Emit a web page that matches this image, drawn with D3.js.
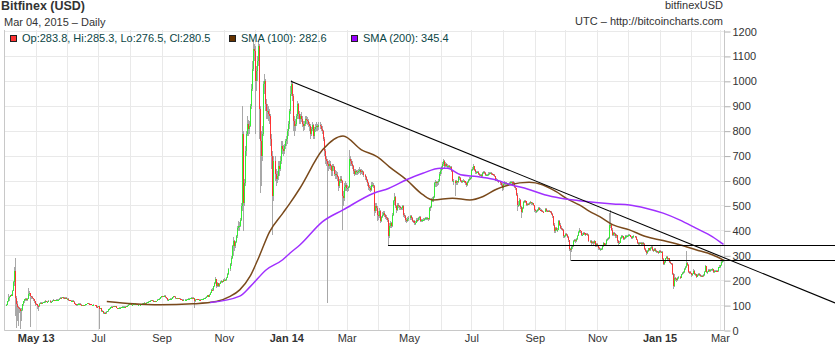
<!DOCTYPE html>
<html>
<head>
<meta charset="utf-8">
<script src="https://cdn.jsdelivr.net/npm/d3@7"></script>
<style>
  body { margin: 0; background: #fff; }
  svg { display: block; }
  text { font-family: "Liberation Sans", Arial, sans-serif; }
</style>
</head>
<body>
<svg id="chart" width="835" height="345"></svg>
<script>
// ---- Bitfinex BTC/USD daily candles, 2013-04-01 .. 2015-03-04 ----
const startDate = "2013-04-01";
const firstOpen = 100;

const close = [
  // 2013 Apr
  104,118,132,135,142,140,160,195,240,130,105,95,90,88,80,82,105,118,125,128,124,128,145,150,138,135,130,125,118,108,
  // May
  105,100,98,108,112,110,112,113,114,118,116,116,119,115,116,119,122,121,121,122,123,124,127,132,131,133,130,128,131,128,128,
  // Jun
  122,121,119,120,120,116,108,107,102,106,108,108,104,100,101,100,101,105,106,109,108,107,106,102,102,103,101,95,94,97,
  // Jul
  88,89,78,79,70,72,69,76,77,86,88,93,96,94,98,97,97,91,89,91,92,92,93,95,96,96,95,97,99,104,105,
  // Aug
  105,104,104,105,106,107,106,104,104,104,106,108,110,111,108,111,114,116,118,119,122,120,116,117,116,118,124,126,128,134,137,
  // Sep
  136,138,139,134,129,123,124,125,127,127,134,137,135,130,130,129,129,128,125,124,123,123,124,124,126,127,128,129,131,128,
  // Oct
  130,118,124,126,125,124,124,123,126,126,127,129,132,135,141,136,143,152,164,163,177,190,206,180,190,179,188,196,197,196,204,
  // Nov
  203,204,212,226,245,265,290,340,360,340,355,380,410,420,420,445,500,790,510,590,720,790,830,810,820,900,970,1050,1130,1120,
  // Dec
  1000,1040,1080,1140,890,760,700,790,990,1000,910,880,880,870,860,770,700,540,680,630,610,620,660,650,680,740,730,720,740,760,770,
  // 2014 Jan
  800,830,880,950,990,940,840,820,830,860,910,870,850,860,850,830,820,830,850,845,840,830,820,790,810,825,780,810,815,820,815,
  // Feb
  825,820,810,800,770,720,690,680,670,660,670,660,640,660,655,630,630,625,615,580,600,610,600,540,530,575,585,570,
  // Mar
  570,575,690,680,670,660,640,630,640,635,635,640,645,635,640,635,625,615,605,590,575,570,565,585,585,580,480,500,490,465,460,
  // Apr
  480,440,455,465,470,462,455,450,445,380,420,430,420,465,520,535,500,485,505,500,495,490,490,500,465,460,445,440,448,450,
  // May
  460,450,440,438,432,432,445,442,452,455,440,442,442,445,446,450,450,450,446,490,495,525,525,535,590,595,590,595,600,630,640,
  // Jun
  655,670,680,660,670,660,660,660,655,655,640,600,600,590,598,595,615,612,600,598,598,602,598,590,585,595,605,610,612,645,
  // Jul
  650,660,645,635,638,638,628,625,625,620,632,638,632,625,625,625,630,632,632,630,628,625,620,605,605,600,595,590,585,570,588,
  // Aug
  592,590,588,588,586,592,595,596,594,593,575,570,545,505,505,525,495,475,490,515,520,518,505,508,507,512,514,510,510,503,483,
  // Sep
  478,478,482,492,485,483,481,477,476,488,480,478,479,478,475,468,458,425,398,412,402,405,440,425,412,408,404,378,378,388,
  // Oct
  385,375,362,328,322,335,338,360,362,360,366,380,395,402,398,385,385,392,390,385,388,384,360,360,350,354,352,358,338,348,340,
  // Nov
  330,328,328,328,340,350,342,348,362,368,372,425,425,405,385,390,388,378,382,358,352,353,372,378,378,368,372,378,378,380,
  // Dec
  382,382,376,370,378,378,376,365,352,348,350,352,348,352,348,328,320,312,318,330,322,333,336,324,320,328,318,318,316,313,320,
  // 2015 Jan
  315,316,287,266,276,290,296,285,290,276,270,268,228,180,210,206,201,212,216,212,226,232,234,248,254,272,264,236,234,230,222,
  // Feb
  228,240,226,226,216,224,228,222,220,220,219,222,236,258,236,236,244,237,241,245,246,236,238,239,238,237,254,255,
  // Mar
  261,276,283.8,280.5
];

const high = [
  106,120,146,140,144,146,162,200,255,290,140,120,100,95,92,90,108,120,128,132,130,132,170,160,152,140,138,132,128,120,
  112,108,103,110,115,114,115,116,117,121,120,119,122,121,119,121,125,124,124,125,125,127,130,135,135,136,135,133,134,134,131,
  129,124,123,122,122,121,117,110,108,107,109,110,109,105,103,102,103,106,108,111,110,109,108,107,104,105,104,102,97,99,
  98,92,90,82,80,74,73,78,80,88,90,95,98,97,100,99,99,97,92,92,94,94,95,97,98,98,97,99,101,106,108,
  107,106,106,107,108,109,108,107,106,106,108,110,112,113,112,113,116,118,120,121,124,123,121,119,118,120,126,128,130,136,140,
  140,140,142,141,136,131,126,127,129,130,136,139,139,137,132,132,131,131,130,127,126,125,126,126,128,129,130,131,133,133,
  133,132,126,128,128,127,126,126,128,128,129,131,134,138,144,143,146,155,168,170,180,195,215,208,195,192,192,200,202,200,208,
  210,208,215,230,250,270,300,345,375,365,360,385,420,440,435,450,510,900,800,610,740,800,860,845,840,910,990,1080,1165,1150,
  1140,1060,1100,1160,1150,900,800,820,1000,1030,1010,930,910,900,890,870,790,720,700,700,650,640,680,680,700,760,760,745,750,770,780,
  810,840,890,980,1006,1000,950,860,850,870,920,915,880,870,875,860,840,840,860,860,855,850,835,830,815,835,830,815,830,835,830,
  835,835,830,820,805,775,730,700,690,680,685,680,665,670,670,660,645,640,635,620,610,620,620,605,560,590,600,590,
  585,580,725,700,690,680,665,650,650,645,645,650,655,650,648,645,640,630,620,610,595,585,580,595,595,590,585,510,510,500,480,
  490,485,460,475,480,478,468,462,455,450,430,440,435,470,525,551,540,505,510,510,505,500,495,505,505,470,465,450,455,460,
  465,465,455,445,442,438,450,450,456,460,458,448,448,450,450,455,455,455,452,495,500,530,535,540,595,605,600,600,610,635,650,
  660,675,690,685,675,672,668,665,665,662,660,645,610,605,605,600,620,620,615,605,605,608,605,600,595,600,610,615,618,650,
  655,668,662,650,642,642,640,632,630,628,636,642,640,635,630,630,635,636,636,635,634,630,628,622,612,610,605,600,595,590,592,
  598,596,594,592,592,596,600,602,600,598,596,580,572,550,520,530,528,500,495,520,525,524,520,512,512,516,518,516,515,512,505,
  488,484,486,496,495,490,486,484,480,492,490,484,483,482,480,478,470,460,430,415,415,410,445,442,430,418,412,406,385,392,
  392,388,380,365,332,340,345,365,368,366,370,385,400,410,405,400,390,396,395,392,392,390,386,365,362,358,358,362,360,352,350,
  345,335,332,332,345,355,352,352,366,372,376,470,482,428,410,395,395,392,386,385,362,360,375,382,382,380,375,382,382,385,
  386,386,385,380,380,382,380,378,368,356,354,356,354,355,354,350,332,325,322,332,333,336,340,338,326,330,330,322,320,320,322,
  322,318,318,290,280,292,300,298,292,292,278,272,270,230,225,215,210,215,220,218,228,235,238,250,258,318,275,266,240,238,232,
  232,245,242,230,228,226,232,230,225,224,224,225,240,262,260,240,246,246,245,248,250,248,242,242,242,241,256,262,
  264,280,286,285.3
];

const low = [
  98,103,115,120,133,137,139,158,180,60,10,40,20,70,5,40,80,100,110,120,118,120,126,140,16,128,125,118,110,100,
  102,85,80,96,106,107,108,110,111,112,113,113,114,112,113,114,117,118,118,119,120,121,122,125,128,129,128,125,126,126,125,
  120,119,117,117,118,114,105,104,100,100,104,106,102,98,99,98,99,100,104,105,106,105,104,101,100,100,99,92,91,93,
  5,85,76,75,66,68,66,68,74,75,84,86,91,92,93,95,95,89,87,88,90,90,91,92,94,94,93,94,96,98,102,
  103,102,102,103,104,105,104,102,102,102,103,105,107,108,106,107,110,113,115,116,117,118,114,114,114,115,117,122,124,126,132,
  133,133,136,132,126,120,121,122,124,125,125,132,133,128,127,127,126,126,123,122,120,121,121,122,122,124,125,126,127,125,
  126,90,115,121,123,122,122,121,121,124,124,125,127,130,133,133,134,141,150,158,160,174,186,170,176,175,176,185,190,190,194,
  198,198,200,210,222,240,260,285,300,320,330,350,370,400,400,415,440,480,400,500,580,700,780,780,790,815,890,960,1040,1080,
  790,960,1000,1060,770,550,580,680,780,950,880,850,850,840,830,740,650,384,520,600,580,590,605,620,640,670,710,700,710,730,740,
  750,780,810,870,940,920,800,779,800,820,850,850,830,830,835,815,800,805,820,830,825,815,800,770,780,800,770,770,795,800,800,
  805,810,800,790,760,700,670,660,110,640,650,645,620,620,640,620,610,610,600,560,570,590,590,404,500,520,560,560,
  555,560,570,660,660,650,630,620,625,625,625,630,632,625,630,625,615,605,595,580,565,560,555,560,575,570,460,470,480,440,445,
  450,430,435,450,458,455,448,445,435,344,370,410,410,415,460,505,490,470,480,492,485,482,482,485,455,450,435,430,435,440,
  445,445,435,430,425,425,430,435,438,445,435,435,436,438,440,442,444,444,440,442,480,490,515,515,530,575,575,580,585,595,620,
  630,645,660,650,655,655,652,652,648,648,635,595,585,540,585,585,590,605,595,590,592,595,590,582,575,580,590,600,605,608,
  640,645,640,628,630,632,624,620,620,615,618,628,628,620,620,620,622,626,628,626,624,620,615,600,598,595,590,585,578,560,565,
  585,585,584,583,582,584,588,590,588,588,570,562,540,480,495,500,488,451,470,488,510,512,500,500,502,505,508,505,505,498,475,
  472,472,474,480,482,480,477,474,472,474,476,474,475,474,470,464,452,420,390,392,398,396,402,420,408,402,398,370,372,375,
  380,370,355,320,280,315,328,335,355,352,355,362,378,390,392,380,378,382,385,380,382,380,355,352,345,346,345,348,335,335,335,
  325,322,320,322,325,335,338,338,345,358,362,368,410,400,380,378,380,372,372,350,345,346,350,368,370,364,364,368,372,374,
  376,378,374,366,368,372,372,362,348,342,344,346,344,345,345,325,315,305,308,315,318,320,328,320,316,318,315,312,310,308,310,
  312,310,282,262,262,272,285,282,282,272,265,262,222,166,175,200,196,198,208,206,210,222,228,230,244,250,258,230,228,225,215,
  218,225,222,218,212,214,220,218,216,215,215,216,220,234,230,228,233,234,234,238,240,232,232,235,235,234,236,250,
  252,258,272,276.5
];

// ---- moving averages ----
const sma100Dates = [
  "2013-07-09","2013-08-04","2013-08-30","2013-10-01","2013-10-24","2013-11-06","2013-11-16","2013-11-26",
  "2013-12-05","2013-12-15","2013-12-28","2014-01-04","2014-01-14","2014-02-05","2014-02-25","2014-03-15",
  "2014-03-31","2014-04-11","2014-04-28","2014-05-14","2014-05-24","2014-06-12","2014-06-29","2014-07-12",
  "2014-07-25","2014-08-07","2014-08-26","2014-09-08","2014-09-21","2014-10-04","2014-10-14","2014-10-24",
  "2014-11-03","2014-11-16","2014-12-02","2014-12-18","2015-01-04","2015-01-20","2015-02-05","2015-02-21","2015-03-04"
];
const sma100 = [
  116,107,103,107,116,136,163,217,
  297,395,470,510,572,725,781,725,
  696,658,605,545,524,531,524,538,
  567,585,595,585,558,524,504,478,
  457,424,404,377,361,344,324,304,282.6
];

const sma200Dates = [
  "2013-10-18","2013-11-16","2013-11-26","2013-12-12","2013-12-28","2014-01-04","2014-01-14","2014-02-05",
  "2014-02-25","2014-03-27","2014-04-11","2014-04-28","2014-05-14","2014-05-31","2014-06-07","2014-06-20",
  "2014-07-06","2014-07-22","2014-08-08","2014-08-25","2014-09-10","2014-09-26","2014-10-14","2014-11-16",
  "2014-12-02","2014-12-18","2015-01-04","2015-01-20","2015-02-05","2015-02-21","2015-03-04"
];
const sma200 = [
  112,138,175,244,284,310,344,437,
  484,551,571,605,631,651,651,625,
  618,607,585,567,545,531,521,508,
  504,491,471,444,411,377,345.4
];

// ---- drawn trend / support lines ----
const trendStart = ["2014-01-05", 1000];
const trendEnd = ["2015-03-04", 293];
const supportStarts = [["2014-04-10", 342], ["2014-10-06", 280]];

// ---- axis labels ----
const priceTicks = [0,100,200,300,400,500,600,700,800,900,1000,1100,1200];
const monthLabels = ["May 13","Jul","Sep","Nov","Jan 14","Mar","May","Jul","Sep","Nov","Jan 15","Mar"];

// ---------------------------------------------------------------
const W = 835, H = 345;
const plot = { left: 4, right: 724, top: 30, bottom: 330.5 };
const svg = d3.select("#chart");
const parse = d3.utcParse("%Y-%m-%d");
const day0 = parse(startDate);

const n = Math.min(close.length, high.length, low.length);
const candles = d3.range(n).map(i => ({
  date: d3.utcDay.offset(day0, i),
  open: i === 0 ? firstOpen : close[i - 1],
  high: high[i], low: low[i], close: close[i]
}));
const last = candles[n - 1];

const x = d3.scaleUtc()
  .domain([d3.utcHour.offset(day0, -36), d3.utcHour.offset(last.date, 12)])
  .range([plot.left, plot.right]);
const y = d3.scaleLinear().domain([0, 1200]).range([330.5, 31.5]);
const crisp = v => Math.round(v - 0.5) + 0.5;

svg.append("defs").append("clipPath").attr("id", "plotClip")
  .append("rect").attr("x", plot.left).attr("y", plot.top)
  .attr("width", plot.right - plot.left).attr("height", plot.bottom - plot.top + 1);

// grid
const grid = svg.append("g").attr("stroke", "#e9e9e9").attr("stroke-width", 1);
grid.selectAll("line.h").data(priceTicks).join("line").attr("class", "h")
  .attr("x1", plot.left).attr("x2", plot.right)
  .attr("y1", d => crisp(y(d))).attr("y2", d => crisp(y(d)));
const months = d3.utcMonth.range(parse("2013-05-01"), parse("2015-03-02"));
grid.selectAll("line.v").data(months).join("line").attr("class", "v")
  .attr("x1", d => crisp(x(d))).attr("x2", d => crisp(x(d)))
  .attr("y1", plot.top).attr("y2", plot.bottom);

// frame
svg.append("path")
  .attr("d", `M${plot.left + 0.5},${plot.top}V${plot.bottom}H${plot.right + 0.5}V${plot.top}`)
  .attr("fill", "none").attr("stroke", "#c8c8c8");

// candles
const cg = svg.append("g").attr("clip-path", "url(#plotClip)").attr("shape-rendering", "crispEdges");
cg.selectAll("line.wick").data(candles).join("line").attr("class", "wick")
  .attr("x1", d => Math.round(x(d.date)) + 0.5).attr("x2", d => Math.round(x(d.date)) + 0.5)
  .attr("y1", d => y(d.high)).attr("y2", d => y(d.low))
  .attr("stroke", "#a8a8a8").attr("stroke-width", 1);
cg.selectAll("rect.body").data(candles).join("rect").attr("class", "body")
  .attr("x", d => Math.round(x(d.date)))
  .attr("width", 1)
  .attr("y", d => y(Math.max(d.open, d.close)))
  .attr("height", d => Math.max(1, Math.abs(y(d.open) - y(d.close))))
  .attr("fill", d => d.close >= d.open ? "#33ee33" : "#ff3333");

// moving averages
const smaLine = d3.line().x(d => x(d[0])).y(d => y(d[1])).curve(d3.curveMonotoneX);
const smaG = svg.append("g").attr("clip-path", "url(#plotClip)").attr("fill", "none").attr("stroke-width", 1.5);
smaG.append("path").datum(sma100Dates.map((s, i) => [parse(s), sma100[i]]))
  .attr("d", smaLine).attr("stroke", "#7a4a1c");
smaG.append("path").datum(sma200Dates.map((s, i) => [parse(s), sma200[i]]))
  .attr("d", smaLine).attr("stroke", "#a030ff");

// trend and support lines (run out to the right edge)
const tx1 = x(parse(trendStart[0])), ty1 = y(trendStart[1]);
const tx2 = x(parse(trendEnd[0])), ty2 = y(trendEnd[1]);
const slope = (ty2 - ty1) / (tx2 - tx1);
const lines = svg.append("g").attr("stroke", "#000").attr("stroke-width", 1.1);
lines.append("line").attr("x1", tx1).attr("y1", ty1).attr("x2", W).attr("y2", ty1 + slope * (W - tx1));
lines.selectAll("line.sup").data(supportStarts).join("line").attr("class", "sup")
  .attr("x1", d => x(parse(d[0]))).attr("x2", W)
  .attr("y1", d => crisp(y(d[1]))).attr("y2", d => crisp(y(d[1])));

// right price axis
const yAxis = svg.append("g").attr("transform", `translate(${plot.right + 0.5},0)`)
  .call(d3.axisRight(y).tickValues(priceTicks).tickSize(6).tickPadding(2).tickFormat(d3.format("d")));
yAxis.select(".domain").remove();
yAxis.selectAll(".tick line").attr("stroke", "#b0b0b0");
yAxis.selectAll(".tick text").attr("fill", "#333").attr("font-size", 11)
  .attr("font-family", "'Liberation Sans', Arial, sans-serif");

// bottom month labels
const xTicks = d3.utcMonth.every(2).range(parse("2013-05-01"), parse("2015-03-02"));
svg.append("g").selectAll("text").data(xTicks).join("text")
  .attr("x", d => x(d)).attr("y", 342).attr("text-anchor", "middle")
  .attr("font-size", 11).attr("fill", "#333")
  .attr("font-weight", (d, i) => monthLabels[i].includes(" ") ? "bold" : "normal")
  .text((d, i) => monthLabels[i]);

// header
svg.append("text").attr("x", 1).attr("y", 10).attr("font-size", 12.5).attr("font-weight", "bold")
  .attr("fill", "#333").text("Bitfinex (USD)");
svg.append("text").attr("x", 4).attr("y", 25.5).attr("font-size", 11).attr("fill", "#333")
  .text(d3.utcFormat("%b %d, %Y")(last.date) + " \u2013 Daily");
svg.append("text").attr("x", 723).attr("y", 8.5).attr("font-size", 11).attr("fill", "#333")
  .attr("text-anchor", "end").text("bitfinexUSD");
svg.append("text").attr("x", 723).attr("y", 24.5).attr("font-size", 11).attr("fill", "#333")
  .attr("text-anchor", "end").text("UTC \u2013 http://bitcoincharts.com");

// legend
const f1 = d3.format(".1f");
const legend = [
  { x: 10, color: "#ff3333",
    text: `Op:${f1(last.open)}, Hi:${f1(last.high)}, Lo:${f1(last.low)}, Cl:${f1(last.close)}` },
  { x: 229, color: "#663300", text: `SMA (100): ${f1(sma100[sma100.length - 1])}` },
  { x: 351, color: "#9900ff", text: `SMA (200): ${f1(sma200[sma200.length - 1])}` }
];
const lg = svg.append("g");
lg.selectAll("rect").data(legend).join("rect")
  .attr("x", d => d.x + 0.5).attr("y", 35.5).attr("width", 6).attr("height", 6)
  .attr("fill", d => d.color).attr("stroke", "#222");
lg.selectAll("text").data(legend).join("text")
  .attr("x", d => d.x + 12).attr("y", 42).attr("font-size", 11).attr("fill", "#0b4646")
  .text(d => d.text);
</script>
</body>
</html>
